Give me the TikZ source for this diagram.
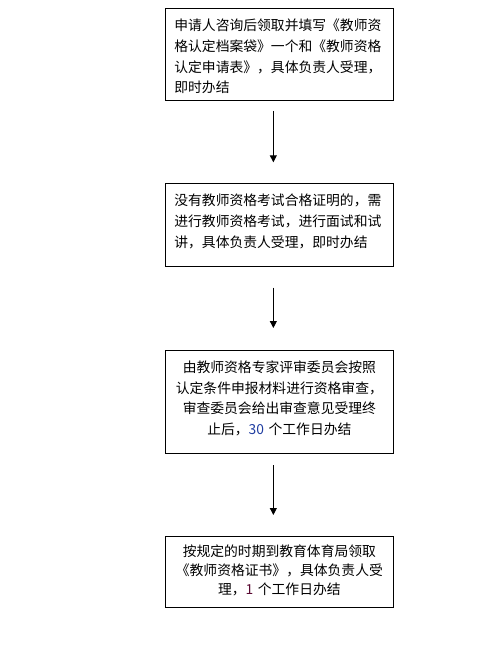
\documentclass[tikz,border=0pt]{standalone}
\usepackage{fontspec}
\setmainfont{Noto Sans CJK SC}
\usetikzlibrary{arrows.meta}
\definecolor{numblue}{RGB}{30,60,160}
\definecolor{numred}{RGB}{90,10,50}
\begin{document}
\begin{tikzpicture}[x=1pt,y=-1pt,
  box/.style={draw=black,line width=1pt,rectangle,inner sep=0pt,minimum width=227.7pt},
  txt/.style={inner sep=0pt,text width=210pt,anchor=north,font=\fontsize{13.8}{20.8}\selectfont},
  flow/.style={draw=black,line width=1pt,-{Triangle[width=7pt,length=7pt]}}]
\useasboundingbox (0,0) rectangle (501,666);
\node[box,minimum height=91.7pt,anchor=north west] (b1) at (165,8.3) {};
\node[box,minimum height=82.4pt,anchor=north west] (b2) at (165,183.3) {};
\node[box,minimum height=103pt,anchor=north west] (b3) at (165,350) {};
\node[box,minimum height=71pt,anchor=north west] (b4) at (165,536) {};
\node[txt,align=left] (t1) at ([yshift=-10.4pt]b1.north) {申请人咨询后领取并填写《教师资\\格认定档案袋》一个和《教师资格\\认定申请表》，具体负责人受理，\\即时办结};
\node[txt,align=left] (t2) at ([yshift=-10.4pt]b2.north) {没有教师资格考试合格证明的，需\\进行教师资格考试，进行面试和试\\讲，具体负责人受理，即时办结};
\node[txt,align=center] (t3) at ([yshift=-10.4pt]b3.north) {由教师资格专家评审委员会按照\\认定条件申报材料进行资格审查，\\审查委员会给出审查意见受理终\\止后，{\color{numblue}30} 个工作日办结};
\node[txt,align=center,font=\fontsize{13.8}{19}\selectfont] (t4) at ([yshift=-8.7pt]b4.north) {按规定的时期到教育体育局领取\\《教师资格证书》，具体负责人受\\理，{\color{numred}1} 个工作日办结};
\draw[flow,shorten <=10pt,shorten >=21pt] ([xshift=-6pt]b1.south) -- ([xshift=-6pt]b2.north);
\draw[flow,shorten <=21pt,shorten >=22pt] ([xshift=-6pt]b2.south) -- ([xshift=-6pt]b3.north);
\draw[flow,shorten <=11pt,shorten >=21pt] ([xshift=-6pt]b3.south) -- ([xshift=-6pt]b4.north);
\end{tikzpicture}
\end{document}
